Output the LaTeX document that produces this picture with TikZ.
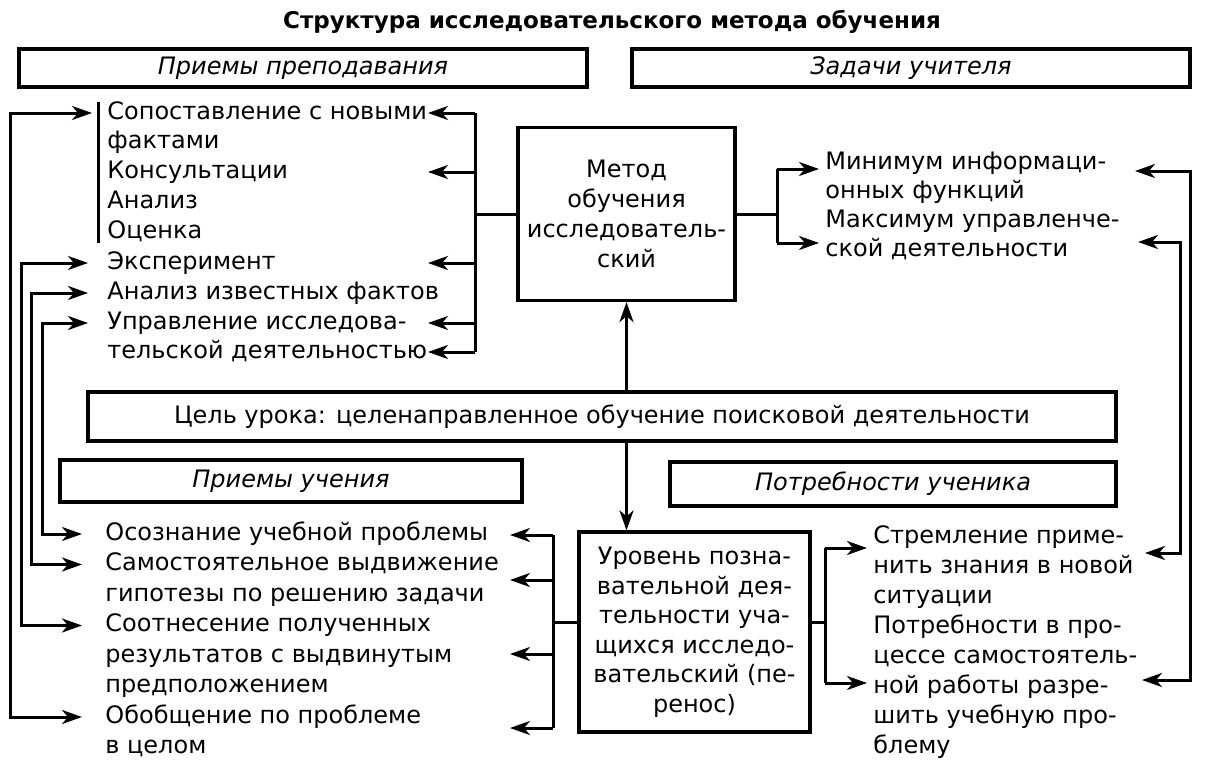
\documentclass[tikz,border=0pt]{standalone}
\usepackage{fontspec}
\setmainfont{DejaVu Sans}[ItalicFont={DejaVu Sans Oblique},BoldFont={DejaVu Sans Bold}]
\usepackage{tikz}
\usetikzlibrary{positioning,arrows.meta,calc}

\begin{document}
\begin{tikzpicture}[x=0.5pt,y=-0.5pt,
    box/.style={draw,line width=1.6pt,inner sep=0pt},
    head/.style={box,font=\itshape\fontsize{12}{15}\selectfont},
    ln/.style={anchor=west,inner sep=0pt,text height=8.6pt,text depth=2.4pt,font=\fontsize{12}{15}\selectfont},
    con/.style={line width=1.5pt},
    arr/.style={con,-{Stealth[length=10pt,width=7pt,inset=3pt]}},
    darr/.style={con,{Stealth[length=10pt,width=7pt,inset=3pt]}-{Stealth[length=10pt,width=7pt,inset=3pt]}}]
  \useasboundingbox (0,0) rectangle (1211,766);

  \node[font=\bfseries\fontsize{11.5}{14}\selectfont](title) at (612,22){Структура исследовательского метода обучения};
  \node[head,minimum width=284pt,minimum height=19pt](hprep) at (303,68){Приемы преподавания};
  \node[head,minimum width=279pt,minimum height=19pt](hzad) at (911,68){Задачи учителя};

  % приемы преподавания
  \node[ln](sop) at (107,113){Сопоставление с новыми};
  \node[ln](fak) at (107,142){фактами};
  \node[ln](kons) at (107,172){Консультации};
  \node[ln](anal) at (107,202){Анализ};
  \node[ln](ocen) at (107,232){Оценка};
  \node[ln](eksp) at (107,263){Эксперимент};
  \node[ln](izv) at (107,293){Анализ известных фактов};
  \node[ln](upr) at (107,323){Управление исследова-};
  \node[ln](tel) at (107,352){тельской деятельностью};
  \draw[con] ([xshift=-4.5pt]sop.north west) -- ([xshift=-4.5pt]ocen.south west);

  \node[box,minimum width=108.5pt,minimum height=86.5pt,align=center,font=\fontsize{12}{15}\selectfont](metod) at (626.5,214){Метод\\обучения\\исследователь-\\ский};

  \coordinate (busL) at (475,214);
  \coordinate (tipL) at (428,214);
  \draw[con] (busL |- sop) -- (busL |- tel);
  \draw[con] (busL) -- (metod.west);
  \draw[arr] (busL |- sop) -- (tipL |- sop);
  \draw[arr] (busL |- kons) -- (tipL |- kons);
  \draw[arr] (busL |- eksp) -- (tipL |- eksp);
  \draw[arr] (busL |- upr) -- (tipL |- upr);
  \draw[arr] (busL |- tel) -- (tipL |- tel);

  % задачи учителя
  \node[ln](min) at (825,163){Минимум информаци-};
  \node[ln](onn) at (825,192){онных функций};
  \node[ln](max) at (825,221){Максимум управленче-};
  \node[ln](sko) at (825,250){ской деятельности};
  \coordinate (busR) at (777,214);
  \coordinate (mn1) at (777,169);
  \coordinate (mn2) at (777,243);
  \draw[con] (metod.east) -- (busR);
  \draw[con] (mn1) -- (mn2);
  \draw[arr,shorten >=3pt] (mn1) -- (mn1 -| min.west);
  \draw[arr,shorten >=3pt] (mn2) -- (mn2 -| sko.west);

  \node[box,minimum width=514pt,minimum height=24.5pt,font=\fontsize{12}{15}\selectfont](cel) at (602,416.5){Цель урока: целенаправленное обучение поисковой деятельности};
  \draw[arr] (metod.south |- cel.north) -- (metod.south);

  \node[head,minimum width=231pt,minimum height=21pt](huch) at (291,481){Приемы учения};
  \node[head,minimum width=223pt,minimum height=22pt](hpotr) at (893,484){Потребности ученика};

  \node[box,minimum width=115.5pt,minimum height=100pt,align=center,font=\fontsize{12}{14.75}\selectfont](urov) at (694.5,632){Уровень позна-\\вательной дея-\\тельности уча-\\щихся исследо-\\вательский (пе-\\ренос)};
  \draw[arr] (metod.south |- cel.south) -- (metod.south |- urov.north);

  % приемы учения
  \node[ln](osoz) at (105,534){Осознание учебной проблемы};
  \node[ln](samo) at (105,564.5){Самостоятельное выдвижение};
  \node[ln](gip) at (105,595){гипотезы по решению задачи};
  \node[ln](soot) at (105,625.5){Соотнесение полученных};
  \node[ln](rez) at (105,656){результатов с выдвинутым};
  \node[ln](pred) at (105,686.5){предположением};
  \node[ln](obob) at (105,717){Обобщение по проблеме};
  \node[ln](vcel) at (105,747.5){в целом};

  \coordinate (busB) at (553,622);
  \coordinate (tipB) at (510,622);
  \coordinate (ub1) at (553,535);
  \coordinate (ub2) at (553,580);
  \coordinate (ub3) at (553,654);
  \coordinate (ub4) at (553,728);
  \draw[con] (ub1) -- (ub4);
  \draw[con] (busB) -- (busB -| urov.west);
  \draw[arr] (ub1) -- (ub1 -| tipB);
  \draw[arr] (ub2) -- (ub2 -| tipB);
  \draw[arr] (ub3) -- (ub3 -| tipB);
  \draw[arr] (ub4) -- (ub4 -| tipB);

  % потребности ученика
  \node[ln](str) at (873,537){Стремление приме-};
  \node[ln](nit) at (873,567){нить знания в новой};
  \node[ln](sit) at (873,597){ситуации};
  \node[ln](potr) at (873,627){Потребности в про-};
  \node[ln](cess) at (873,657){цессе самостоятель-};
  \node[ln](noi) at (873,687){ной работы разре-};
  \node[ln](shit) at (873,717){шить учебную про-};
  \node[ln](blem) at (873,747){блему};

  \coordinate (busU) at (825,622);
  \coordinate (us1) at (825,548);
  \coordinate (us2) at (825,683);
  \draw[con] (urov.east |- busU) -- (busU);
  \draw[con] (us1) -- (us2);
  \draw[arr,shorten >=3pt] (us1) -- (us1 -| str.west);
  \draw[arr,shorten >=3pt] (us2) -- (us2 -| str.west);

  % связи по краям
  \coordinate (v1) at (10,400);
  \coordinate (v2) at (21,400);
  \coordinate (v3) at (31,400);
  \coordinate (v4) at (42,400);
  \draw[darr,shorten <=7.5pt,shorten >=11.5pt] (sop.west) -| (v1) |- (obob.west);
  \draw[darr,shorten <=9.5pt,shorten >=11.5pt] (eksp.west) -| (v2) |- (soot.west);
  \draw[darr,shorten <=9.5pt,shorten >=11.5pt] (izv.west) -| (v3) |- (samo.west);
  \draw[darr,shorten <=9.5pt,shorten >=11.5pt] (upr.west) -| (v4) |- (osoz.west);

  \coordinate (tmin) at (1135,171);
  \coordinate (tmax) at (1138,242);
  \coordinate (tstr) at (1145,553);
  \coordinate (tpot) at (1142,680);
  \coordinate (vo) at (1190,400);
  \coordinate (vi) at (1180,400);
  \draw[darr] (tmin) -| (vo) |- (tpot);
  \draw[darr] (tmax) -| (vi) |- (tstr);
\end{tikzpicture}
\end{document}
